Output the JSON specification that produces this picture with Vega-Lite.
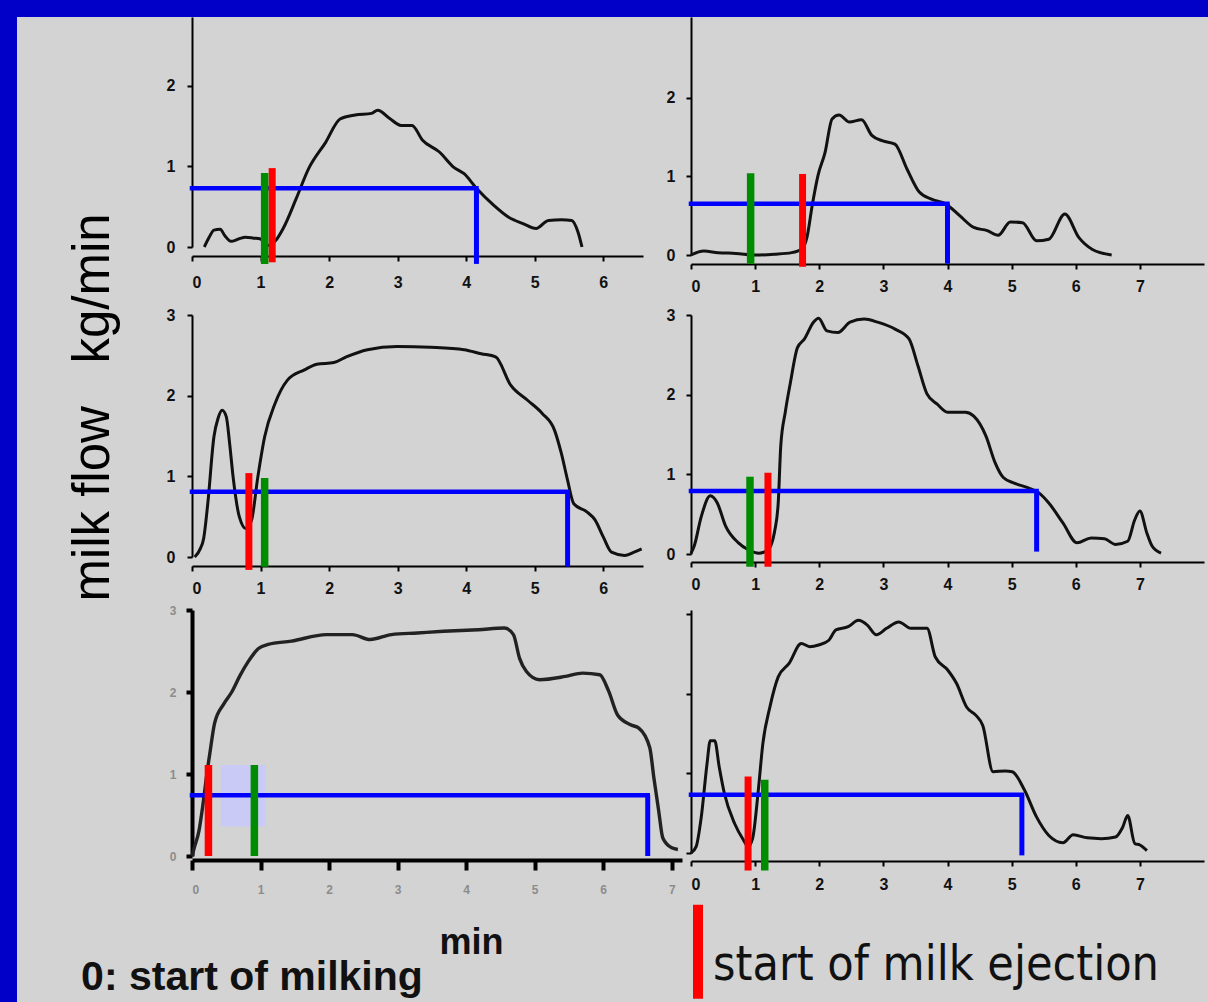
{
  "$schema": "https://vega.github.io/schema/vega-lite/v6.json",
  "padding": 0,
  "spacing": 0,
  "config": {
    "background": "#d3d3d3",
    "view": {"stroke": null},
    "axis": {"grid": false, "domainColor": "#000", "tickColor": "#000", "domainWidth": 2, "tickWidth": 2, "tickSize": 5, "labelFont": "Liberation Sans", "labelFontSize": 16, "labelFontWeight": "bold", "labelColor": "#111"}
  },
  "datasets": {
    "flow": [
      {"p":"TL","t":0.18,"v":0},{"p":"TL","t":0.25,"v":0.12},{"p":"TL","t":0.32,"v":0.21},{"p":"TL","t":0.41,"v":0.22},{"p":"TL","t":0.48,"v":0.14},{"p":"TL","t":0.57,"v":0.07},{"p":"TL","t":0.68,"v":0.10},{"p":"TL","t":0.78,"v":0.12},{"p":"TL","t":0.90,"v":0.11},{"p":"TL","t":1.00,"v":0.10},{"p":"TL","t":1.12,"v":0.02},{"p":"TL","t":1.22,"v":0.08},{"p":"TL","t":1.33,"v":0.23},{"p":"TL","t":1.52,"v":0.60},{"p":"TL","t":1.70,"v":0.97},{"p":"TL","t":1.95,"v":1.30},{"p":"TL","t":2.16,"v":1.59},{"p":"TL","t":2.38,"v":1.64},{"p":"TL","t":2.62,"v":1.66},{"p":"TL","t":2.71,"v":1.70},{"p":"TL","t":2.88,"v":1.60},{"p":"TL","t":3.05,"v":1.51},{"p":"TL","t":3.21,"v":1.51},{"p":"TL","t":3.36,"v":1.33},{"p":"TL","t":3.61,"v":1.18},{"p":"TL","t":3.82,"v":0.99},{"p":"TL","t":3.97,"v":0.91},{"p":"TL","t":4.16,"v":0.72},{"p":"TL","t":4.40,"v":0.52},{"p":"TL","t":4.62,"v":0.37},{"p":"TL","t":4.83,"v":0.29},{"p":"TL","t":5.02,"v":0.23},{"p":"TL","t":5.20,"v":0.33},{"p":"TL","t":5.39,"v":0.34},{"p":"TL","t":5.54,"v":0.33},{"p":"TL","t":5.63,"v":0.19},{"p":"TL","t":5.69,"v":0},
      {"p":"TR","t":0,"v":0},{"p":"TR","t":0.2,"v":0.05},{"p":"TR","t":0.42,"v":0.03},{"p":"TR","t":0.7,"v":0.02},{"p":"TR","t":1.02,"v":0},{"p":"TR","t":1.3,"v":0.01},{"p":"TR","t":1.57,"v":0.03},{"p":"TR","t":1.73,"v":0.08},{"p":"TR","t":1.81,"v":0.23},{"p":"TR","t":1.89,"v":0.63},{"p":"TR","t":1.98,"v":1.01},{"p":"TR","t":2.09,"v":1.30},{"p":"TR","t":2.20,"v":1.73},{"p":"TR","t":2.31,"v":1.78},{"p":"TR","t":2.47,"v":1.69},{"p":"TR","t":2.66,"v":1.72},{"p":"TR","t":2.82,"v":1.52},{"p":"TR","t":2.99,"v":1.45},{"p":"TR","t":3.18,"v":1.41},{"p":"TR","t":3.37,"v":1.09},{"p":"TR","t":3.56,"v":0.80},{"p":"TR","t":3.75,"v":0.71},{"p":"TR","t":3.97,"v":0.65},{"p":"TR","t":4.19,"v":0.50},{"p":"TR","t":4.41,"v":0.35},{"p":"TR","t":4.62,"v":0.31},{"p":"TR","t":4.79,"v":0.25},{"p":"TR","t":4.98,"v":0.42},{"p":"TR","t":5.17,"v":0.41},{"p":"TR","t":5.39,"v":0.18},{"p":"TR","t":5.58,"v":0.20},{"p":"TR","t":5.83,"v":0.52},{"p":"TR","t":6.05,"v":0.22},{"p":"TR","t":6.26,"v":0.07},{"p":"TR","t":6.56,"v":0},
      {"p":"ML","t":0.04,"v":0},{"p":"ML","t":0.12,"v":0.10},{"p":"ML","t":0.17,"v":0.23},{"p":"ML","t":0.23,"v":0.66},{"p":"ML","t":0.32,"v":1.49},{"p":"ML","t":0.38,"v":1.72},{"p":"ML","t":0.44,"v":1.82},{"p":"ML","t":0.50,"v":1.74},{"p":"ML","t":0.55,"v":1.40},{"p":"ML","t":0.60,"v":0.99},{"p":"ML","t":0.69,"v":0.50},{"p":"ML","t":0.79,"v":0.35},{"p":"ML","t":0.87,"v":0.46},{"p":"ML","t":0.96,"v":0.99},{"p":"ML","t":1.06,"v":1.49},{"p":"ML","t":1.21,"v":1.90},{"p":"ML","t":1.39,"v":2.19},{"p":"ML","t":1.64,"v":2.32},{"p":"ML","t":1.82,"v":2.39},{"p":"ML","t":2.07,"v":2.41},{"p":"ML","t":2.25,"v":2.48},{"p":"ML","t":2.56,"v":2.57},{"p":"ML","t":2.99,"v":2.61},{"p":"ML","t":3.48,"v":2.60},{"p":"ML","t":3.97,"v":2.57},{"p":"ML","t":4.22,"v":2.52},{"p":"ML","t":4.43,"v":2.48},{"p":"ML","t":4.65,"v":2.13},{"p":"ML","t":4.90,"v":1.94},{"p":"ML","t":5.11,"v":1.78},{"p":"ML","t":5.29,"v":1.57},{"p":"ML","t":5.39,"v":1.28},{"p":"ML","t":5.48,"v":0.95},{"p":"ML","t":5.57,"v":0.66},{"p":"ML","t":5.76,"v":0.56},{"p":"ML","t":5.88,"v":0.46},{"p":"ML","t":6.00,"v":0.25},{"p":"ML","t":6.12,"v":0.06},{"p":"ML","t":6.31,"v":0.02},{"p":"ML","t":6.45,"v":0.06},{"p":"ML","t":6.56,"v":0.10},
      {"p":"MR","t":0,"v":0.01},{"p":"MR","t":0.05,"v":0.10},{"p":"MR","t":0.16,"v":0.47},{"p":"MR","t":0.30,"v":0.73},{"p":"MR","t":0.41,"v":0.64},{"p":"MR","t":0.54,"v":0.35},{"p":"MR","t":0.74,"v":0.14},{"p":"MR","t":0.90,"v":0.05},{"p":"MR","t":1.06,"v":0.01},{"p":"MR","t":1.20,"v":0.05},{"p":"MR","t":1.31,"v":0.31},{"p":"MR","t":1.36,"v":0.64},{"p":"MR","t":1.40,"v":1.36},{"p":"MR","t":1.47,"v":1.78},{"p":"MR","t":1.55,"v":2.15},{"p":"MR","t":1.66,"v":2.59},{"p":"MR","t":1.77,"v":2.70},{"p":"MR","t":1.91,"v":2.91},{"p":"MR","t":1.99,"v":2.96},{"p":"MR","t":2.12,"v":2.80},{"p":"MR","t":2.29,"v":2.78},{"p":"MR","t":2.48,"v":2.91},{"p":"MR","t":2.70,"v":2.95},{"p":"MR","t":2.91,"v":2.91},{"p":"MR","t":3.19,"v":2.82},{"p":"MR","t":3.40,"v":2.70},{"p":"MR","t":3.54,"v":2.36},{"p":"MR","t":3.68,"v":2.01},{"p":"MR","t":3.84,"v":1.88},{"p":"MR","t":4.00,"v":1.78},{"p":"MR","t":4.28,"v":1.78},{"p":"MR","t":4.41,"v":1.73},{"p":"MR","t":4.60,"v":1.48},{"p":"MR","t":4.74,"v":1.15},{"p":"MR","t":4.87,"v":0.96},{"p":"MR","t":5.04,"v":0.89},{"p":"MR","t":5.26,"v":0.83},{"p":"MR","t":5.42,"v":0.77},{"p":"MR","t":5.58,"v":0.64},{"p":"MR","t":5.80,"v":0.39},{"p":"MR","t":6.02,"v":0.14},{"p":"MR","t":6.24,"v":0.20},{"p":"MR","t":6.45,"v":0.19},{"p":"MR","t":6.62,"v":0.12},{"p":"MR","t":6.81,"v":0.16},{"p":"MR","t":6.92,"v":0.43},{"p":"MR","t":7.00,"v":0.54},{"p":"MR","t":7.11,"v":0.26},{"p":"MR","t":7.19,"v":0.10},{"p":"MR","t":7.33,"v":0.01},
      {"p":"BL","t":0,"v":0},{"p":"BL","t":0.04,"v":0.12},{"p":"BL","t":0.10,"v":0.30},{"p":"BL","t":0.16,"v":0.63},{"p":"BL","t":0.21,"v":0.96},{"p":"BL","t":0.26,"v":1.25},{"p":"BL","t":0.33,"v":1.62},{"p":"BL","t":0.46,"v":1.85},{"p":"BL","t":0.58,"v":2.0},{"p":"BL","t":0.70,"v":2.2},{"p":"BL","t":0.82,"v":2.37},{"p":"BL","t":0.97,"v":2.53},{"p":"BL","t":1.11,"v":2.58},{"p":"BL","t":1.45,"v":2.62},{"p":"BL","t":1.96,"v":2.70},{"p":"BL","t":2.34,"v":2.70},{"p":"BL","t":2.60,"v":2.64},{"p":"BL","t":2.91,"v":2.70},{"p":"BL","t":3.29,"v":2.72},{"p":"BL","t":3.67,"v":2.74},{"p":"BL","t":4.18,"v":2.76},{"p":"BL","t":4.56,"v":2.78},{"p":"BL","t":4.69,"v":2.70},{"p":"BL","t":4.78,"v":2.41},{"p":"BL","t":4.88,"v":2.25},{"p":"BL","t":5.07,"v":2.15},{"p":"BL","t":5.45,"v":2.19},{"p":"BL","t":5.70,"v":2.23},{"p":"BL","t":5.95,"v":2.21},{"p":"BL","t":6.08,"v":2.01},{"p":"BL","t":6.21,"v":1.72},{"p":"BL","t":6.40,"v":1.60},{"p":"BL","t":6.52,"v":1.56},{"p":"BL","t":6.68,"v":1.32},{"p":"BL","t":6.74,"v":0.95},{"p":"BL","t":6.81,"v":0.55},{"p":"BL","t":6.87,"v":0.22},{"p":"BL","t":7.00,"v":0.10},{"p":"BL","t":7.09,"v":0.08},
      {"p":"BR","t":0,"v":0},{"p":"BR","t":0.08,"v":0.08},{"p":"BR","t":0.16,"v":0.45},{"p":"BR","t":0.25,"v":1.12},{"p":"BR","t":0.30,"v":1.41},{"p":"BR","t":0.37,"v":1.41},{"p":"BR","t":0.44,"v":1.08},{"p":"BR","t":0.52,"v":0.75},{"p":"BR","t":0.68,"v":0.37},{"p":"BR","t":0.82,"v":0.16},{"p":"BR","t":0.89,"v":0.08},{"p":"BR","t":0.96,"v":0.18},{"p":"BR","t":1.05,"v":0.79},{"p":"BR","t":1.12,"v":1.37},{"p":"BR","t":1.23,"v":1.83},{"p":"BR","t":1.36,"v":2.21},{"p":"BR","t":1.53,"v":2.38},{"p":"BR","t":1.72,"v":2.63},{"p":"BR","t":1.85,"v":2.59},{"p":"BR","t":1.99,"v":2.61},{"p":"BR","t":2.15,"v":2.67},{"p":"BR","t":2.26,"v":2.80},{"p":"BR","t":2.45,"v":2.84},{"p":"BR","t":2.61,"v":2.92},{"p":"BR","t":2.75,"v":2.86},{"p":"BR","t":2.89,"v":2.74},{"p":"BR","t":3.05,"v":2.82},{"p":"BR","t":3.24,"v":2.90},{"p":"BR","t":3.43,"v":2.82},{"p":"BR","t":3.68,"v":2.82},{"p":"BR","t":3.81,"v":2.46},{"p":"BR","t":4.00,"v":2.30},{"p":"BR","t":4.14,"v":2.13},{"p":"BR","t":4.30,"v":1.83},{"p":"BR","t":4.44,"v":1.73},{"p":"BR","t":4.55,"v":1.60},{"p":"BR","t":4.71,"v":1.02},{"p":"BR","t":4.90,"v":1.03},{"p":"BR","t":5.01,"v":1.02},{"p":"BR","t":5.20,"v":0.79},{"p":"BR","t":5.39,"v":0.45},{"p":"BR","t":5.58,"v":0.22},{"p":"BR","t":5.80,"v":0.13},{"p":"BR","t":5.96,"v":0.23},{"p":"BR","t":6.18,"v":0.19},{"p":"BR","t":6.40,"v":0.18},{"p":"BR","t":6.62,"v":0.20},{"p":"BR","t":6.73,"v":0.32},{"p":"BR","t":6.81,"v":0.47},{"p":"BR","t":6.92,"v":0.12},{"p":"BR","t":7.00,"v":0.10},{"p":"BR","t":7.11,"v":0.03}
    ],
    "markers": [
      {"p":"TL","k":"blue","x0":0,"level":0.73,"end":4.15,"bottom":-0.21},
      {"p":"TL","k":"green","t":1.06,"top":0.92,"bottom":-0.21},
      {"p":"TL","k":"red","t":1.17,"top":0.98,"bottom":-0.19},
      {"p":"TR","k":"blue","x0":0,"level":0.65,"end":4.0,"bottom":-0.11},
      {"p":"TR","k":"green","t":0.93,"top":1.04,"bottom":-0.11},
      {"p":"TR","k":"red","t":1.74,"top":1.03,"bottom":-0.15},
      {"p":"ML","k":"blue","x0":0,"level":0.81,"end":5.48,"bottom":-0.12},
      {"p":"ML","k":"red","t":0.83,"top":1.04,"bottom":-0.16},
      {"p":"ML","k":"green","t":1.06,"top":0.98,"bottom":-0.12},
      {"p":"MR","k":"blue","x0":0,"level":0.79,"end":5.39,"bottom":0.03},
      {"p":"MR","k":"green","t":0.92,"top":0.97,"bottom":-0.16},
      {"p":"MR","k":"red","t":1.20,"top":1.02,"bottom":-0.16},
      {"p":"BL","k":"blue","x0":0,"level":0.74,"end":6.65,"bottom":0},
      {"p":"BL","k":"red","t":0.24,"top":1.11,"bottom":0},
      {"p":"BL","k":"green","t":0.91,"top":1.11,"bottom":0},
      {"p":"BL","k":"lav","t":0.42,"t2":1.07,"top":1.11,"bottom":0.36},
      {"p":"BR","k":"blue","x0":0,"level":0.73,"end":5.16,"bottom":-0.03},
      {"p":"BR","k":"red","t":0.89,"top":0.96,"bottom":-0.22},
      {"p":"BR","k":"green","t":1.15,"top":0.92,"bottom":-0.22}
    ]
  },
  "vconcat": [
    {"width": 1208, "height": 17, "data": {"values": [{"a": 1}]}, "mark": {"type": "point", "opacity": 0}, "encoding": {}, "view": {"fill": "#0000c8", "stroke": null}},
    {"spacing": 51, "hconcat": [
      {"width": 17, "height": 985, "data": {"values": [{"a": 1}]}, "mark": {"type": "point", "opacity": 0}, "encoding": {}, "view": {"fill": "#0000c8", "stroke": null}},
      {"title": {"text": "0: start of milking", "orient": "bottom", "anchor": "start", "offset": -2, "dx": 13, "font": "Liberation Sans", "fontSize": 41, "fontWeight": "bold", "color": "#111"},
       "vconcat": [
        {"title": {"text": "milk flow\u00a0\u00a0\u00a0kg/min", "orient": "left", "anchor": "middle", "offset": 46, "dx": 81, "font": "Liberation Sans", "fontSize": 51, "fontWeight": "normal", "color": "#000"},
         "spacing": 13,
         "vconcat": [
          {"hconcat": [
            {"width": 451, "height": 230, "layer": [
              {"data": {"name": "flow"}, "transform": [{"filter": "datum.p=='TL'"}], "mark": {"type": "line", "color": "#111", "strokeWidth": 3, "interpolate": "monotone"},
               "encoding": {"x": {"field": "t", "type": "quantitative", "scale": {"domain": [0, 6.58], "nice": false, "zero": false}, "axis": {"values": [0,1,2,3,4,5,6], "format": "d", "title": null, "offset": 9, "labelPadding": 13}},
                            "y": {"field": "v", "type": "quantitative", "scale": {"domain": [0, 2.857], "nice": false, "zero": false}, "axis": {"values": [0,1,2], "format": "d", "title": null, "labelPadding": 12}}}},
              {"data": {"name": "markers"}, "transform": [{"filter": "datum.p=='TL' && datum.k=='blue'"}], "mark": {"type": "rule", "color": "#0000ff", "strokeWidth": 4.5, "strokeCap": "square"},
               "encoding": {"x": {"field": "x0", "type": "quantitative"}, "x2": {"field": "end"}, "y": {"field": "level", "type": "quantitative"}}},
              {"data": {"name": "markers"}, "transform": [{"filter": "datum.p=='TL' && datum.k=='blue'"}], "mark": {"type": "rule", "color": "#0000ff", "strokeWidth": 5},
               "encoding": {"x": {"field": "end", "type": "quantitative"}, "y": {"field": "bottom", "type": "quantitative"}, "y2": {"field": "level"}}},
              {"data": {"name": "markers"}, "transform": [{"filter": "datum.p=='TL' && datum.k=='red'"}], "mark": {"type": "rule", "color": "#ff0000", "strokeWidth": 7},
               "encoding": {"x": {"field": "t", "type": "quantitative"}, "y": {"field": "bottom", "type": "quantitative"}, "y2": {"field": "top"}}},
              {"data": {"name": "markers"}, "transform": [{"filter": "datum.p=='TL' && datum.k=='green'"}], "mark": {"type": "rule", "color": "#008c00", "strokeWidth": 7.5},
               "encoding": {"x": {"field": "t", "type": "quantitative"}, "y": {"field": "bottom", "type": "quantitative"}, "y2": {"field": "top"}}}
            ]},
            {"width": 513, "height": 238, "layer": [
              {"data": {"name": "flow"}, "transform": [{"filter": "datum.p=='TR'"}], "mark": {"type": "line", "color": "#111", "strokeWidth": 3, "interpolate": "monotone"},
               "encoding": {"x": {"field": "t", "type": "quantitative", "scale": {"domain": [0, 8], "nice": false, "zero": false}, "axis": {"values": [0,1,2,3,4,5,6,7], "format": "d", "title": null, "offset": 9, "labelPadding": 9}},
                            "y": {"field": "v", "type": "quantitative", "scale": {"domain": [0, 3.025], "nice": false, "zero": false}, "axis": {"values": [0,1,2], "format": "d", "title": null, "labelPadding": 11}}}},
              {"data": {"name": "markers"}, "transform": [{"filter": "datum.p=='TR' && datum.k=='blue'"}], "mark": {"type": "rule", "color": "#0000ff", "strokeWidth": 4.5, "strokeCap": "square"},
               "encoding": {"x": {"field": "x0", "type": "quantitative"}, "x2": {"field": "end"}, "y": {"field": "level", "type": "quantitative"}}},
              {"data": {"name": "markers"}, "transform": [{"filter": "datum.p=='TR' && datum.k=='blue'"}], "mark": {"type": "rule", "color": "#0000ff", "strokeWidth": 5},
               "encoding": {"x": {"field": "end", "type": "quantitative"}, "y": {"field": "bottom", "type": "quantitative"}, "y2": {"field": "level"}}},
              {"data": {"name": "markers"}, "transform": [{"filter": "datum.p=='TR' && datum.k=='red'"}], "mark": {"type": "rule", "color": "#ff0000", "strokeWidth": 7},
               "encoding": {"x": {"field": "t", "type": "quantitative"}, "y": {"field": "bottom", "type": "quantitative"}, "y2": {"field": "top"}}},
              {"data": {"name": "markers"}, "transform": [{"filter": "datum.p=='TR' && datum.k=='green'"}], "mark": {"type": "rule", "color": "#008c00", "strokeWidth": 7.5},
               "encoding": {"x": {"field": "t", "type": "quantitative"}, "y": {"field": "bottom", "type": "quantitative"}, "y2": {"field": "top"}}}
            ]}
          ], "spacing": 48, "bounds": "flush"},
          {"spacing": 8, "vconcat": [
            {"hconcat": [
              {"width": 451, "height": 242, "layer": [
                {"data": {"name": "flow"}, "transform": [{"filter": "datum.p=='ML'"}], "mark": {"type": "line", "color": "#111", "strokeWidth": 3, "interpolate": "monotone"},
                 "encoding": {"x": {"field": "t", "type": "quantitative", "scale": {"domain": [0, 6.58], "nice": false, "zero": false}, "axis": {"values": [0,1,2,3,4,5,6], "format": "d", "title": null, "offset": 9, "labelPadding": 9}},
                              "y": {"field": "v", "type": "quantitative", "scale": {"domain": [0, 3], "nice": false, "zero": false}, "axis": {"values": [0,1,2,3], "format": "d", "title": null, "labelPadding": 12}}}},
                {"data": {"name": "markers"}, "transform": [{"filter": "datum.p=='ML' && datum.k=='blue'"}], "mark": {"type": "rule", "color": "#0000ff", "strokeWidth": 4.5, "strokeCap": "square"},
                 "encoding": {"x": {"field": "x0", "type": "quantitative"}, "x2": {"field": "end"}, "y": {"field": "level", "type": "quantitative"}}},
                {"data": {"name": "markers"}, "transform": [{"filter": "datum.p=='ML' && datum.k=='blue'"}], "mark": {"type": "rule", "color": "#0000ff", "strokeWidth": 5},
                 "encoding": {"x": {"field": "end", "type": "quantitative"}, "y": {"field": "bottom", "type": "quantitative"}, "y2": {"field": "level"}}},
                {"data": {"name": "markers"}, "transform": [{"filter": "datum.p=='ML' && datum.k=='red'"}], "mark": {"type": "rule", "color": "#ff0000", "strokeWidth": 7},
                 "encoding": {"x": {"field": "t", "type": "quantitative"}, "y": {"field": "bottom", "type": "quantitative"}, "y2": {"field": "top"}}},
                {"data": {"name": "markers"}, "transform": [{"filter": "datum.p=='ML' && datum.k=='green'"}], "mark": {"type": "rule", "color": "#008c00", "strokeWidth": 7.5},
                 "encoding": {"x": {"field": "t", "type": "quantitative"}, "y": {"field": "bottom", "type": "quantitative"}, "y2": {"field": "top"}}}
              ]},
              {"width": 513, "height": 239, "layer": [
                {"data": {"name": "flow"}, "transform": [{"filter": "datum.p=='MR'"}], "mark": {"type": "line", "color": "#111", "strokeWidth": 3, "interpolate": "monotone"},
                 "encoding": {"x": {"field": "t", "type": "quantitative", "scale": {"domain": [0, 8], "nice": false, "zero": false}, "axis": {"values": [0,1,2,3,4,5,6,7], "format": "d", "title": null, "offset": 8, "labelPadding": 9}},
                              "y": {"field": "v", "type": "quantitative", "scale": {"domain": [0, 3], "nice": false, "zero": false}, "axis": {"values": [0,1,2,3], "format": "d", "title": null, "labelPadding": 11}}}},
                {"data": {"name": "markers"}, "transform": [{"filter": "datum.p=='MR' && datum.k=='blue'"}], "mark": {"type": "rule", "color": "#0000ff", "strokeWidth": 4.5, "strokeCap": "square"},
                 "encoding": {"x": {"field": "x0", "type": "quantitative"}, "x2": {"field": "end"}, "y": {"field": "level", "type": "quantitative"}}},
                {"data": {"name": "markers"}, "transform": [{"filter": "datum.p=='MR' && datum.k=='blue'"}], "mark": {"type": "rule", "color": "#0000ff", "strokeWidth": 5},
                 "encoding": {"x": {"field": "end", "type": "quantitative"}, "y": {"field": "bottom", "type": "quantitative"}, "y2": {"field": "level"}}},
                {"data": {"name": "markers"}, "transform": [{"filter": "datum.p=='MR' && datum.k=='red'"}], "mark": {"type": "rule", "color": "#ff0000", "strokeWidth": 7},
                 "encoding": {"x": {"field": "t", "type": "quantitative"}, "y": {"field": "bottom", "type": "quantitative"}, "y2": {"field": "top"}}},
                {"data": {"name": "markers"}, "transform": [{"filter": "datum.p=='MR' && datum.k=='green'"}], "mark": {"type": "rule", "color": "#008c00", "strokeWidth": 7.5},
                 "encoding": {"x": {"field": "t", "type": "quantitative"}, "y": {"field": "bottom", "type": "quantitative"}, "y2": {"field": "top"}}}
              ]}
            ], "spacing": 48, "bounds": "flush"},
            {"hconcat": [
              {"width": 490, "height": 246, "layer": [
                {"data": {"name": "markers"}, "transform": [{"filter": "datum.p=='BL' && datum.k=='lav'"}], "mark": {"type": "rect", "color": "#cacaf6", "opacity": 1},
                 "encoding": {"x": {"field": "t", "type": "quantitative", "scale": {"domain": [0, 7.15], "nice": false, "zero": false},
                                    "axis": {"values": [0,1,2,3,4,5,6,7], "format": "d", "offset": 4, "domainWidth": 4, "tickWidth": 4, "tickSize": 10, "labelPadding": 14, "labelColor": "#8c8c8c", "labelFontSize": 12, "labelFontWeight": "bold",
                                             "title": "min", "titleFont": "Liberation Sans", "titleFontSize": 36, "titleFontWeight": "bold", "titleColor": "#111", "titleX": 279, "titleY": 93, "titleBaseline": "alphabetic", "titleAlign": "center"}},
                              "x2": {"field": "t2"},
                              "y": {"field": "bottom", "type": "quantitative", "scale": {"domain": [0, 3], "nice": false, "zero": false},
                                    "axis": {"values": [0,1,2,3], "format": "d", "title": null, "domainWidth": 4, "tickWidth": 4, "tickSize": 6, "labelPadding": 10, "labelColor": "#8c8c8c", "labelFontSize": 12, "labelFontWeight": "bold"}},
                              "y2": {"field": "top"}}},
                {"data": {"name": "flow"}, "transform": [{"filter": "datum.p=='BL'"}], "mark": {"type": "line", "color": "#222", "strokeWidth": 3.4, "interpolate": "monotone"},
                 "encoding": {"x": {"field": "t", "type": "quantitative"}, "y": {"field": "v", "type": "quantitative"}}},
                {"data": {"name": "markers"}, "transform": [{"filter": "datum.p=='BL' && datum.k=='blue'"}], "mark": {"type": "rule", "color": "#0000ff", "strokeWidth": 4.5, "strokeCap": "square"},
                 "encoding": {"x": {"field": "x0", "type": "quantitative"}, "x2": {"field": "end"}, "y": {"field": "level", "type": "quantitative"}}},
                {"data": {"name": "markers"}, "transform": [{"filter": "datum.p=='BL' && datum.k=='blue'"}], "mark": {"type": "rule", "color": "#0000ff", "strokeWidth": 5},
                 "encoding": {"x": {"field": "end", "type": "quantitative"}, "y": {"field": "bottom", "type": "quantitative"}, "y2": {"field": "level"}}},
                {"data": {"name": "markers"}, "transform": [{"filter": "datum.p=='BL' && datum.k=='red'"}], "mark": {"type": "rule", "color": "#ff0000", "strokeWidth": 7.5},
                 "encoding": {"x": {"field": "t", "type": "quantitative"}, "y": {"field": "bottom", "type": "quantitative"}, "y2": {"field": "top"}}},
                {"data": {"name": "markers"}, "transform": [{"filter": "datum.p=='BL' && datum.k=='green'"}], "mark": {"type": "rule", "color": "#008c00", "strokeWidth": 7.5},
                 "encoding": {"x": {"field": "t", "type": "quantitative"}, "y": {"field": "bottom", "type": "quantitative"}, "y2": {"field": "top"}}}
              ]},
              {"width": 513, "height": 243, "layer": [
                {"data": {"name": "flow"}, "transform": [{"filter": "datum.p=='BR'"}], "mark": {"type": "line", "color": "#111", "strokeWidth": 3, "interpolate": "monotone"},
                 "encoding": {"x": {"field": "t", "type": "quantitative", "scale": {"domain": [0, 8], "nice": false, "zero": false}, "axis": {"values": [0,1,2,3,4,5,6,7], "format": "d", "title": null, "offset": 8, "labelPadding": 10}},
                              "y": {"field": "v", "type": "quantitative", "scale": {"domain": [0, 3.05], "nice": false, "zero": false}, "axis": {"values": [0,1,2,3], "title": null, "labels": false}}}},
                {"data": {"name": "markers"}, "transform": [{"filter": "datum.p=='BR' && datum.k=='blue'"}], "mark": {"type": "rule", "color": "#0000ff", "strokeWidth": 4.5, "strokeCap": "square"},
                 "encoding": {"x": {"field": "x0", "type": "quantitative"}, "x2": {"field": "end"}, "y": {"field": "level", "type": "quantitative"}}},
                {"data": {"name": "markers"}, "transform": [{"filter": "datum.p=='BR' && datum.k=='blue'"}], "mark": {"type": "rule", "color": "#0000ff", "strokeWidth": 5},
                 "encoding": {"x": {"field": "end", "type": "quantitative"}, "y": {"field": "bottom", "type": "quantitative"}, "y2": {"field": "level"}}},
                {"data": {"name": "markers"}, "transform": [{"filter": "datum.p=='BR' && datum.k=='red'"}], "mark": {"type": "rule", "strokeWidth": 7},
                 "encoding": {"x": {"field": "t", "type": "quantitative"}, "y": {"field": "bottom", "type": "quantitative"}, "y2": {"field": "top"},
                              "color": {"datum": "start of milk ejection", "type": "nominal", "scale": {"range": ["#ff0000"]},
                                        "legend": {"title": null, "orient": "none", "legendX": 646, "legendY": 928, "padding": 0, "symbolType": "M0,-1.6L0,0.4", "symbolSize": 8836, "symbolStrokeWidth": 10, "symbolStrokeColor": "#ff0000", "labelFont": "DejaVu Sans Condensed, DejaVu Sans", "labelFontSize": 48, "labelColor": "#111", "labelBaseline": "alphabetic", "labelOffset": -37, "labelLimit": 0}}}},
                {"data": {"name": "markers"}, "transform": [{"filter": "datum.p=='BR' && datum.k=='green'"}], "mark": {"type": "rule", "color": "#008c00", "strokeWidth": 7.5},
                 "encoding": {"x": {"field": "t", "type": "quantitative"}, "y": {"field": "bottom", "type": "quantitative"}, "y2": {"field": "top"}}}
              ]}
            ], "spacing": 9, "bounds": "flush"}
          ]}
        ]}
      ]}
    ]}
  ]
}
